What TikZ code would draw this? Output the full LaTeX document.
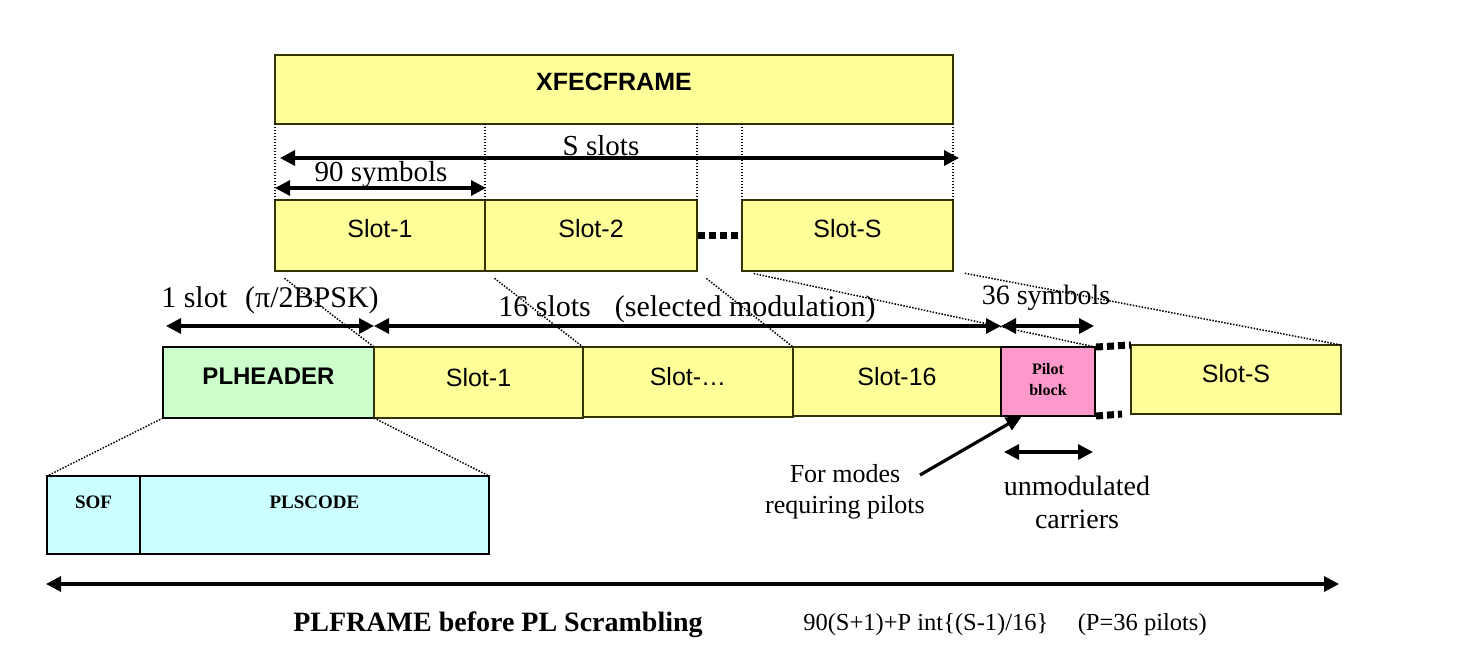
\documentclass[tikz,border=0pt]{standalone}
\usepackage{fontspec}
\setmainfont{Liberation Serif}
\newfontfamily\arial{Liberation Sans}
\usetikzlibrary{arrows.meta}
\definecolor{yel}{HTML}{FFFF99}
\definecolor{grn}{HTML}{CCFFCC}
\definecolor{cyn}{HTML}{CCFFFF}
\definecolor{pnk}{HTML}{FF99CC}
\definecolor{edge}{HTML}{333300}
\begin{document}
\begin{tikzpicture}[x=1pt,y=-1pt,
  box/.style={draw=edge, line width=1.8pt, anchor=north west, inner sep=0pt, outer sep=0pt,
    font=\arial\fontsize{25}{28}\selectfont},
  blkbox/.style={box, draw=black},
  proj/.style={line width=1.5pt, dash pattern=on 1.5pt off 1.5pt, shorten <=12pt},
  vdot/.style={line width=1.4pt, dash pattern=on 1.4pt off 1.6pt},
  bigdots/.style={line width=7pt, dash pattern=on 7pt off 4pt},
  dim/.style={line width=3.2pt, {Triangle[length=15pt,width=15pt]}-{Triangle[length=15pt,width=15pt]}},
  ptr/.style={line width=3.2pt, -{Triangle[length=16pt,width=14pt]}},
  tm/.style={font=\fontsize{29}{31}\selectfont, inner sep=0pt},
  tms/.style={font=\fontsize{26}{31}\selectfont, inner sep=0pt, align=center},
]
\useasboundingbox (0,0) rectangle (1460,661);

% top frame
\node[box, fill=yel, minimum width=678, minimum height=69] (xfec) at (275,55) {};
\node[font=\arial\bfseries\fontsize{25}{28}\selectfont, inner sep=0pt] (xfect) at (614,82) {XFECFRAME};

\node[box, fill=yel, minimum width=210, minimum height=71] (s1) at (275,200) {};
\node[box, fill=yel, minimum width=212, minimum height=71] (s2) at (485,200) {};
\node[box, fill=yel, minimum width=211, minimum height=71] (sS) at (742,200) {};
\node[font=\arial\fontsize{25}{28}\selectfont, inner sep=0pt] (s1t) at ([yshift=7pt]s1.center) {Slot-1};
\node[font=\arial\fontsize{25}{28}\selectfont, inner sep=0pt] (s2t) at ([yshift=7pt]s2.center) {Slot-2};
\node[font=\arial\fontsize{25}{28}\selectfont, inner sep=0pt] (sSt) at ([yshift=7pt]sS.center) {Slot-S};

\draw[bigdots] ([xshift=1pt]s2.east) -- (sS.west);

% vertical dotted guides
\draw[vdot] (xfec.south west) -- (s1.north west);
\draw[vdot] (s1.north east |- xfec.south) -- (s1.north east);
\draw[vdot] (s2.north east |- xfec.south) -- (s2.north east);
\draw[vdot] (sS.north west |- xfec.south) -- (sS.north west);
\draw[vdot] (xfec.south east) -- (sS.north east);

% dimension arrows top
\coordinate (sa) at (280,158);
\coordinate (sb) at (959,158);
\draw[dim] (sa) -- (sb);
\node[tm] (sslots) at (601,146) {S slots};
\coordinate (na) at (275,188);
\coordinate (nb) at (486,188);
\draw[dim] (na) -- (nb);
\node[tm] (nsym) at (381,175) {90 symbols};

% bottom row
\node[blkbox, fill=grn, minimum width=211, minimum height=71] (ph) at (163,347) {};
\node[font=\arial\bfseries\fontsize{24}{28}\selectfont, inner sep=0pt] (pht) at ([yshift=6pt]ph.center) {PLHEADER};
\node[box, fill=yel, minimum width=209, minimum height=71] (b1) at (374,347) {};
\node[box, fill=yel, minimum width=210, minimum height=70] (b2) at (583,347) {};
\node[box, fill=yel, minimum width=208, minimum height=69] (b16) at (793,347) {};
\node[blkbox, fill=pnk, minimum width=94, minimum height=69] (pb) at (1001,347) {};
\node[box, fill=yel, minimum width=210, minimum height=69] (bS) at (1131,345) {};
\node[font=\arial\fontsize{25}{28}\selectfont, inner sep=0pt] (b1t) at ([yshift=5pt]b1.center) {Slot-1};
\node[font=\arial\fontsize{25}{28}\selectfont, inner sep=0pt] (b2t) at ([yshift=5pt]b2.center) {Slot-\ldots};
\node[font=\arial\fontsize{25}{28}\selectfont, inner sep=0pt] (b16t) at ([yshift=5pt]b16.center) {Slot-16};
\node[font=\arial\fontsize{25}{28}\selectfont, inner sep=0pt] (bSt) at ([yshift=6pt]bS.center) {Slot-S};
\node[font=\bfseries\fontsize{16}{21}\selectfont, inner sep=0pt, align=center] (pbt) at ([yshift=2pt]pb.center) {Pilot\\block};

\draw[bigdots] ([xshift=1pt]pb.north east) -- (bS.north west);
\coordinate (bdend) at (1122,414);
\draw[bigdots] ([xshift=1pt]pb.south east) -- (bdend);

% projection lines
\draw[proj] (s1.south west) -- (b1.north west);
\draw[proj] (s2.south west) -- (b2.north west);
\draw[proj] (s2.south east) -- (b16.north west);
\draw[proj] (sS.south west) -- (pb.north east);
\draw[proj] (sS.south east) -- (bS.north east);

% dimension arrows middle
\node[font=\fontsize{30}{32}\selectfont, inner sep=0pt] (oneslot) at (270,300) {1 slot\hspace{0.6em}(π/2BPSK)};
\node[font=\fontsize{30}{32}\selectfont, inner sep=0pt] (sixteen) at (687,309) {16 slots\hspace{0.8em}(selected modulation)};
\node[font=\fontsize{28}{31}\selectfont, inner sep=0pt] (thirtysix) at (1046,298) {36 symbols};
\coordinate (m0) at (166,326);
\coordinate (m1) at (374,326);
\coordinate (m2) at (1001,326);
\coordinate (m3) at (1094,326);
\draw[dim] (m0) -- (m1);
\draw[dim] (m1) -- (m2);
\draw[dim] (m2) -- (m3);

% PLHEADER expansion
\node[blkbox, fill=cyn, minimum width=93, minimum height=78] (sof) at (47,476) {};
\node[blkbox, fill=cyn, minimum width=349, minimum height=78] (plsc) at (140,476) {};
\node[font=\bfseries\fontsize{19}{22}\selectfont, inner sep=0pt] (soft) at ([yshift=-26pt]sof.north) {SOF};
\node[font=\bfseries\fontsize{19}{22}\selectfont, inner sep=0pt] (plsct) at ([yshift=-26pt]plsc.north) {PLSCODE};
\draw[proj, shorten <=0pt] (ph.south west) -- (sof.north west);
\draw[proj, shorten <=0pt] (ph.south east) -- (plsc.north east);

% pilots annotations
\node[tms] (modes) at (845,492) {For modes\\requiring pilots};
\coordinate (pa) at (920,475);
\coordinate (pz) at (1022,416);
\draw[ptr] (pa) -- (pz);
\coordinate (ua) at (1004,452);
\coordinate (ub) at (1093,452);
\draw[dim] (ua) -- (ub);
\node[font=\fontsize{28}{33}\selectfont, inner sep=0pt, align=center] (unmod) at (1077,502) {unmodulated\\carriers};

% bottom
\coordinate (fa) at (46,584);
\coordinate (fb) at (1339,584);
\draw[dim] (fa) -- (fb);
\node[font=\bfseries\fontsize{28}{30}\selectfont, inner sep=0pt] (plframe) at (498,625) {PLFRAME before PL Scrambling};
\node[font=\fontsize{24.5}{28}\selectfont, inner sep=0pt] (formula) at (1005,625) {90(S+1)+P int\{(S-1)/16\}\hspace{1.2em}(P=36 pilots)};
\end{tikzpicture}
\end{document}
